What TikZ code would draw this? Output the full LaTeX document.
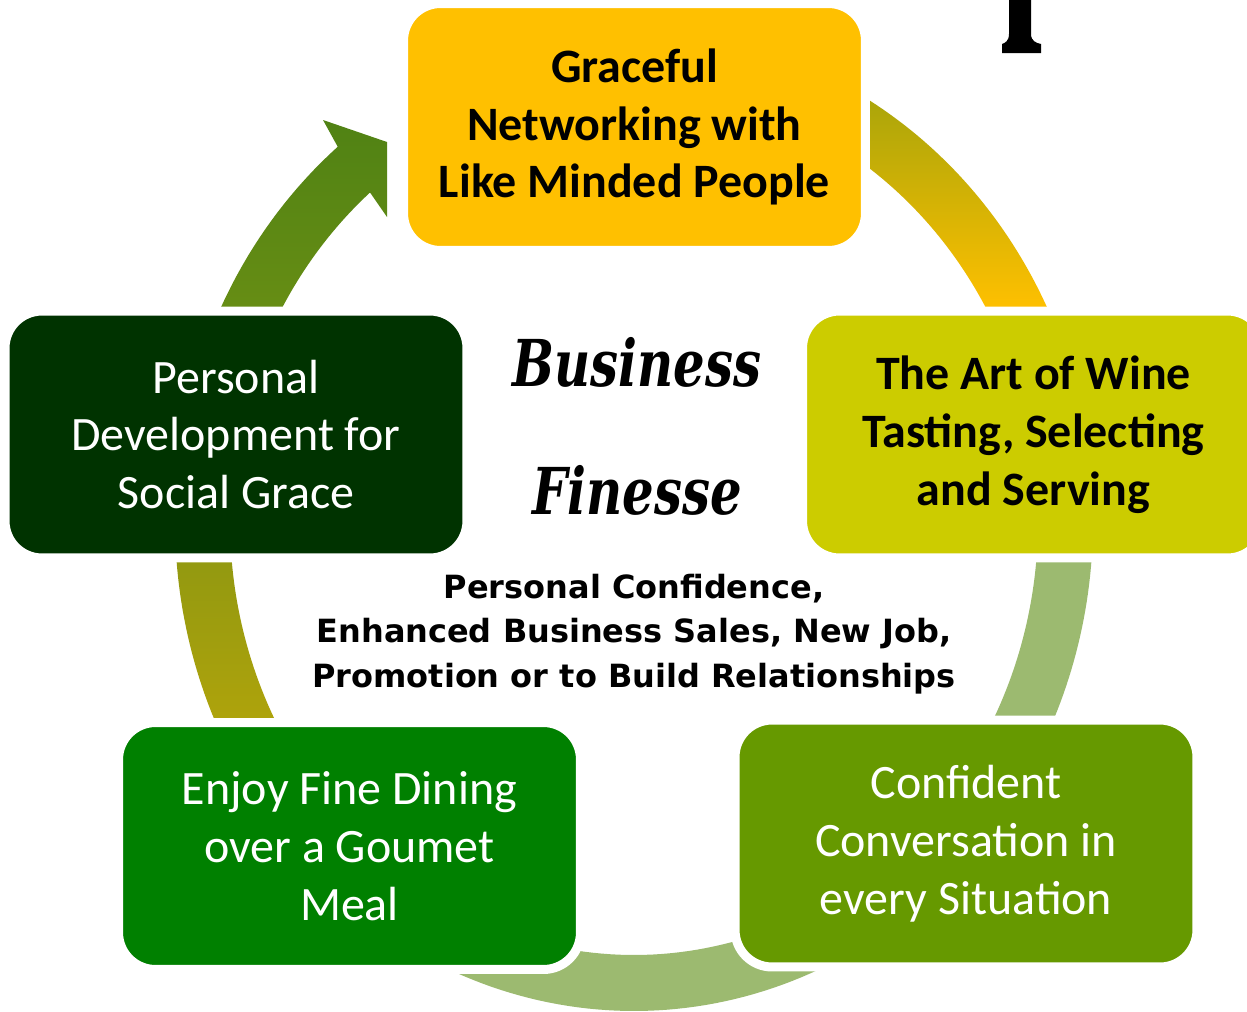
\documentclass[tikz,border=0pt]{standalone}
\usepackage{fontspec}
\newfontfamily\calibri{Carlito}
\newfontfamily\verdana{DejaVu Sans}
\newfontfamily\brush{DejaVu Serif}
\usetikzlibrary{calc}

\definecolor{amber}{RGB}{255,192,0}
\definecolor{wineyellow}{RGB}{204,204,0}
\definecolor{forestdark}{RGB}{0,51,0}
\definecolor{dinegreen}{RGB}{0,128,0}
\definecolor{talkgreen}{RGB}{102,153,0}
\definecolor{ringgreen}{RGB}{156,186,112}
\definecolor{oliveA}{RGB}{170,165,10}
\definecolor{oliveB}{RGB}{125,145,20}
\definecolor{oliveC}{RGB}{182,166,10}
\definecolor{arrowA}{RGB}{80,130,20}
\definecolor{arrowB}{RGB}{110,145,20}

\tikzset{
  cyclebox/.style={rounded corners=0.74cm, draw=white, line width=0.18cm,
    minimum width=9.24cm, minimum height=4.94cm, inner sep=0pt, align=center},
  boldtext/.style={text=black, font=\calibri\bfseries\fontsize{27.3}{32.9}\selectfont},
  plaintext/.style={text=white, font=\calibri\fontsize{27.3}{32.9}\selectfont},
  brushtext/.style={font=\brush\bfseries\itshape\fontsize{28.3}{33}\selectfont},
}

\begin{document}
\begin{tikzpicture}[x=0.02cm,y=-0.02cm]

	\fill[white] (0,0) rectangle (1247,1011);
	\useasboundingbox (0,0) rectangle (1247,1011);
	
	\coordinate (ctr) at (634,521);
	
	% ring pieces, outer ellipse 459/490, inner 404/434
	\shade[top color=oliveA, bottom color=amber]
		plot[domain=-59.9:-25.5, samples=40] ({634+459*cos(\x)},{521+490*sin(\x)})
		-- plot[domain=-29.1:-55.3, samples=40] ({634+404*cos(\x)},{521+434*sin(\x)}) -- cycle;
	\fill[ringgreen]
		plot[domain=-10:30, samples=40] ({634+459*cos(\x)},{521+490*sin(\x)})
		-- plot[domain=30:-10, samples=40] ({634+404*cos(\x)},{521+434*sin(\x)}) -- cycle;
	\fill[ringgreen]
		plot[domain=55:128, samples=60] ({634+459*cos(\x)},{521+490*sin(\x)})
		-- plot[domain=128:55, samples=60] ({634+404*cos(\x)},{521+434*sin(\x)}) -- cycle;
	\shade[top color=oliveB, bottom color=oliveC]
		plot[domain=150:190, samples=40] ({634+459*cos(\x)},{521+490*sin(\x)})
		-- plot[domain=190:150, samples=40] ({634+404*cos(\x)},{521+434*sin(\x)}) -- cycle;
	\shade[top color=arrowA, bottom color=arrowB]
		plot[domain=200:229.8, samples=40] ({634+459*cos(\x)},{521+490*sin(\x)})
		-- (323,120) -- (387,142) -- (387,217)
		-- plot[domain=229.2:200, samples=40] ({634+404*cos(\x)},{521+434*sin(\x)}) -- cycle;
	
	% the five steps
	\node[cyclebox, boldtext, fill=amber] (grace) at (634.5,127)
		{Graceful\\Networking with\\Like Minded People};
	\node[cyclebox, boldtext, fill=wineyellow] (wine) at (1033.5,434.5)
		{The Art of Wine\\Tasting, Selecting\\and Serving};
	\node[cyclebox, plaintext, fill=talkgreen] (talk) at (966,843.5)
		{Confident\\Conversation in\\every Situation};
	\node[cyclebox, plaintext, fill=dinegreen] (dine) at (349.5,846)
		{Enjoy Fine Dining\\over a Goumet\\Meal};
	\node[cyclebox, plaintext, fill=forestdark] (grow) at (236,434.5)
		{Personal\\Development for\\Social Grace};
	
	% centre
	\node[brushtext] (biz) at (637,362) {\scalebox{1}[1.3]{Business}};
	\node[brushtext] (fin) at (637,490) {\scalebox{1}[1.3]{Finesse}};
	\node[font=\verdana\bfseries\fontsize{18.2}{25.5}\selectfont, align=center] (gain) at (634,634)
		{Personal Confidence,\\Enhanced Business Sales, New Job,\\Promotion or to Build Relationships};
	
	% cut-off letter at top right
	\fill[black] (1009,0) -- (1009,34) .. controls (1009,41) and (1005,43) .. (1002,44)
		-- (1002,53) -- (1041,53) -- (1041,44) .. controls (1036,43) and (1031,41) .. (1031,34)
		-- (1031,0) -- cycle;

\end{tikzpicture}
\end{document}
